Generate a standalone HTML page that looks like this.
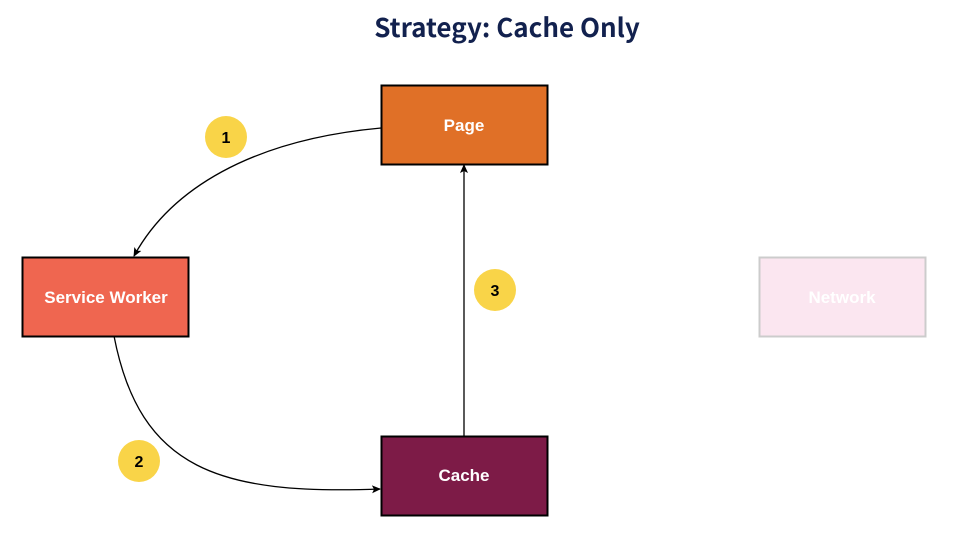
<!DOCTYPE html>
<html><head><style>
body{margin:0;background:#fff;}
svg{display:block;font-family:"Liberation Sans",Arial,sans-serif;}
</style></head><body>
<svg width="954" height="537" viewBox="0 0 954 537" xmlns="http://www.w3.org/2000/svg">
<defs><marker id="a" markerWidth="10" markerHeight="10" refX="8" refY="5" orient="auto" markerUnits="userSpaceOnUse"><path d="M0,1 L9,5 L0,9 L2,5 Z" fill="#000"/></marker></defs>
<text x="507" y="37" text-anchor="middle" font-size="26" font-weight="bold" fill="#12214e" font-family="'Noto Sans CJK KR','Liberation Sans',sans-serif">Strategy: Cache Only</text>
<path d="M381,128 C250,140 170,190 134,256" fill="none" stroke="#000" stroke-width="1.3" marker-end="url(#a)"/>
<path d="M114,336 C140,470 220,495 380,489" fill="none" stroke="#000" stroke-width="1.3" marker-end="url(#a)"/>
<path d="M464,436 L464,165" fill="none" stroke="#000" stroke-width="1.3" marker-end="url(#a)"/>
<rect x="381.5" y="85.5" width="166" height="79" fill="#e07027" stroke="#000" stroke-width="2"/>
<text x="464" y="131" text-anchor="middle" font-size="17" font-weight="bold" fill="#fff">Page</text>
<rect x="22.5" y="257.5" width="166" height="79" fill="#ef6650" stroke="#000" stroke-width="2"/>
<text x="106" y="303" text-anchor="middle" font-size="17" font-weight="bold" fill="#fff">Service Worker</text>
<rect x="759.5" y="257.5" width="166" height="79" fill="#fbe6f0" stroke="#cccccc" stroke-width="2"/>
<text x="842" y="303" text-anchor="middle" font-size="17" font-weight="bold" fill="#fff">Network</text>
<rect x="381.5" y="436.5" width="166" height="79" fill="#7d1b47" stroke="#000" stroke-width="2"/>
<text x="464" y="481" text-anchor="middle" font-size="17" font-weight="bold" fill="#fff">Cache</text>
<circle cx="226" cy="137" r="21" fill="#f9d448"/>
<text x="226" y="143" text-anchor="middle" font-size="16" font-weight="bold" fill="#000">1</text>
<circle cx="495" cy="290" r="21" fill="#f9d448"/>
<text x="495" y="296" text-anchor="middle" font-size="16" font-weight="bold" fill="#000">3</text>
<circle cx="139" cy="461" r="21" fill="#f9d448"/>
<text x="139" y="467" text-anchor="middle" font-size="16" font-weight="bold" fill="#000">2</text>
</svg>
</body></html>
